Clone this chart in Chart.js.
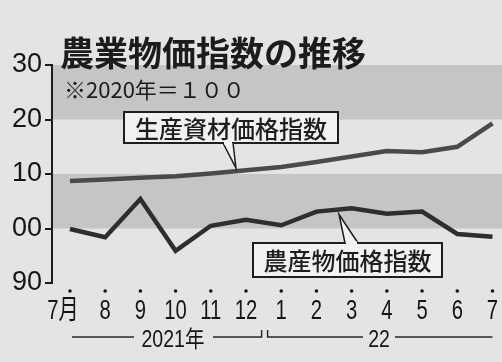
<!DOCTYPE html>
<html>
<head>
<meta charset="utf-8">
<script src="https://cdn.jsdelivr.net/npm/chart.js@4/dist/chart.umd.min.js"></script>
<style>
  html, body { margin: 0; padding: 0; background: #e4e4e4; }
  #wrap { width: 502px; height: 362px; }
</style>
</head>
<body>
<div id="wrap"><canvas id="c" width="502" height="362"></canvas></div>
<script>
// 2021年7月〜2022年7月, 2020年=100
var months = ['7月', '8', '9', '10', '11', '12', '1', '2', '3', '4', '5', '6', '7'];
var shizai = [108.7, 109.0, 109.3, 109.6, 110.1, 110.7, 111.3, 112.2, 113.2, 114.2, 114.0, 115.0, 119.3];
var nousan = [99.9, 98.4, 105.4, 95.9, 100.5, 101.6, 100.6, 103.1, 103.7, 102.7, 103.1, 99.0, 98.5];
var bands = [[120, 130], [100, 110]];

var JP = '"Noto Sans CJK JP", sans-serif';
var NUM = '"Liberation Sans", "Noto Sans CJK JP", sans-serif';

function toPoints(arr) {
  return arr.map(function (v, i) { return { x: i, y: v }; });
}

function lineAt(arr, t) {
  var i = Math.floor(t);
  return arr[i] + (arr[i + 1] - arr[i]) * (t - i);
}

function callout(ctx, text, box, tail) {
  ctx.save();
  ctx.fillStyle = '#f1f1f1';
  ctx.strokeStyle = '#1e1e1e';
  ctx.lineWidth = 2;
  ctx.fillRect(box.x, box.y, box.w, box.h);
  ctx.strokeRect(box.x, box.y, box.w, box.h);
  // tail
  ctx.beginPath();
  ctx.moveTo(tail.x1, tail.y);
  ctx.lineTo(tail.tx, tail.ty);
  ctx.lineTo(tail.x2, tail.y);
  ctx.closePath();
  ctx.fill();
  ctx.beginPath();
  ctx.moveTo(tail.x1, tail.y);
  ctx.lineTo(tail.tx, tail.ty);
  ctx.lineTo(tail.x2, tail.y);
  ctx.lineWidth = 1.5;
  ctx.stroke();
  ctx.fillRect(tail.x1 + 1, tail.y - 1.5, tail.x2 - tail.x1 - 2, 3);
  ctx.fillStyle = '#1e1e1e';
  ctx.font = '500 24px ' + JP;
  ctx.textAlign = 'center';
  ctx.textBaseline = 'middle';
  ctx.fillText(text, box.x + box.w / 2, box.y + box.h / 2 + 1);
  ctx.restore();
}

function narrowText(ctx, text, x, y, size, sx) {
  ctx.save();
  ctx.font = size + 'px ' + NUM;
  ctx.textAlign = 'center';
  ctx.textBaseline = 'alphabetic';
  ctx.translate(x, y);
  ctx.scale(sx, 1);
  ctx.fillText(text, 0, 0);
  ctx.restore();
}

var deco = {
  id: 'deco',
  beforeDraw: function (chart) {
    var ctx = chart.ctx, ys = chart.scales.y, a = chart.chartArea;
    ctx.save();
    ctx.fillStyle = '#e4e4e4';
    ctx.fillRect(0, 0, chart.width, chart.height);
    ctx.fillStyle = '#c5c5c5';
    bands.forEach(function (b) {
      var t = ys.getPixelForValue(b[1]), btm = ys.getPixelForValue(b[0]);
      ctx.fillRect(a.left, t, chart.width - a.left, btm - t);
    });
    ctx.restore();
  },
  afterDatasetsDraw: function (chart) {
    var ctx = chart.ctx, xs = chart.scales.x, ys = chart.scales.y;
    ctx.save();

    // title
    ctx.fillStyle = '#1c1c1c';
    ctx.textBaseline = 'middle';
    ctx.textAlign = 'left';
    ctx.font = 'bold 34px ' + JP;
    ctx.fillText('農業物価指数の推移', 60, 53);
    ctx.font = '22px ' + JP;
    ctx.fillText('※2020年＝１００', 64, 90);

    // callouts, tips hooked on the lines
    var t1 = xs.getValueForPixel(236);
    callout(ctx, '生産資材価格指数',
      { x: 124, y: 112, w: 214, h: 31 },
      { x1: 223, x2: 233, y: 143, tx: 236, ty: ys.getPixelForValue(lineAt(shizai, t1)) - 3 });
    var t2 = xs.getValueForPixel(339);
    callout(ctx, '農産物価格指数',
      { x: 253, y: 243, w: 189, h: 34 },
      { x1: 345, x2: 358, y: 243, tx: 339, ty: ys.getPixelForValue(lineAt(nousan, t2)) + 5 });

    // month dots and labels
    ctx.fillStyle = '#151515';
    months.forEach(function (m, i) {
      var x = xs.getPixelForValue(i);
      ctx.beginPath();
      ctx.arc(x, 291, 1.8, 0, Math.PI * 2);
      ctx.fill();
      narrowText(ctx, m, i === 0 ? x - 7 : x, 319, 27, 0.75);
    });

    // year brackets
    var yl = 337;
    var x0 = xs.getPixelForValue(0) + 2, xb = xs.getPixelForValue(5.5), xe = xs.getPixelForValue(12);
    ctx.strokeStyle = '#2a2a2a';
    ctx.lineWidth = 1.5;
    ctx.beginPath();
    ctx.moveTo(x0, yl); ctx.lineTo(134, yl);
    ctx.moveTo(213, yl); ctx.lineTo(xb - 2, yl); ctx.lineTo(xb - 2, yl - 7);
    ctx.moveTo(xb + 4, yl - 7); ctx.lineTo(xb + 4, yl); ctx.lineTo(363, yl);
    ctx.moveTo(395, yl); ctx.lineTo(xe, yl);
    ctx.stroke();
    narrowText(ctx, '2021年', 173, 347, 23, 0.85);
    narrowText(ctx, '22', 379, 347, 23, 0.85);

    ctx.restore();
  }
};

new Chart(document.getElementById('c'), {
  type: 'line',
  data: {
    datasets: [
      { label: '生産資材価格指数', data: toPoints(shizai), borderColor: '#4a4a4a', borderWidth: 4.5,
        pointRadius: 0, tension: 0, fill: false },
      { label: '農産物価格指数', data: toPoints(nousan), borderColor: '#2e2e2e', borderWidth: 4.5,
        pointRadius: 0, tension: 0, fill: false }
    ]
  },
  options: {
    responsive: false,
    animation: false,
    layout: { padding: { top: 65, bottom: 79, left: 0, right: 0 } },
    plugins: { legend: { display: false }, tooltip: { enabled: false } },
    scales: {
      x: { type: 'linear', min: -0.51, max: 12.27, display: false },
      y: {
        min: 90, max: 130,
        ticks: {
          stepSize: 10, color: '#151515', padding: 3,
          font: { family: NUM, size: 27 },
          callback: function (v) { return String(v % 100).padStart(2, '0'); }
        },
        grid: { drawOnChartArea: false, tickLength: 7, color: '#1c1c1c', lineWidth: 2 },
        border: { color: '#1c1c1c', width: 2 },
        afterFit: function (s) { s.width = 52; }
      }
    }
  },
  plugins: [deco]
});
</script>
</body>
</html>
